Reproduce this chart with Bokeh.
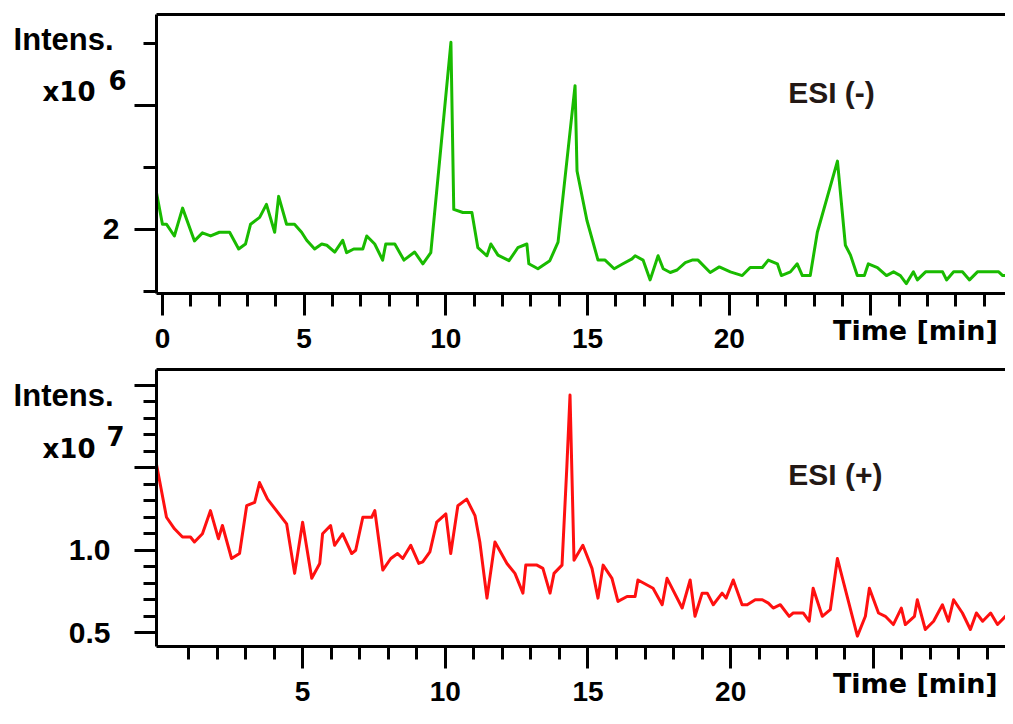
from bokeh.plotting import figure
from bokeh.models import FixedTicker, LinearAxis, Label, Range1d
from bokeh.layouts import column
from bokeh.embed import file_html
from bokeh.resources import INLINE

# ---------------- data (time in min, intensity in x10^n) ----------------
neg_time = [-0.21, 0.0, 0.14, 0.42, 0.71, 1.13, 1.41, 1.70, 2.01, 2.37,
            2.69, 2.93, 3.11, 3.43, 3.67, 3.96, 4.10, 4.38, 4.66, 4.91,
            5.09, 5.37, 5.62, 5.80, 6.08, 6.36, 6.50, 6.75, 7.07, 7.21,
            7.49, 7.77, 7.88, 8.20, 8.52, 8.90, 9.19, 9.47, 10.18, 10.28,
            10.60, 10.92, 11.13, 11.45, 11.59, 11.84, 12.23, 12.54, 12.86, 12.93,
            13.25, 13.67, 13.96, 14.56, 14.59, 14.63, 14.98, 15.37, 15.62, 15.94,
            16.25, 16.57, 16.68, 16.96, 17.21, 17.49, 17.67, 17.92, 18.16, 18.45,
            18.69, 18.90, 19.33, 19.65, 20.04, 20.46, 20.74, 21.17, 21.38, 21.70,
            21.84, 22.16, 22.40, 22.58, 22.86, 23.11, 23.82, 24.10, 24.28, 24.52,
            24.77, 24.91, 25.23, 25.55, 25.80, 26.04, 26.25, 26.50, 26.64, 26.93,
            27.53, 27.67, 27.92, 28.23, 28.48, 28.76, 29.51, 29.65, 30.04]
neg_intensity = [2.59, 2.08, 2.08, 1.89, 2.34, 1.81, 1.94, 1.89, 1.95, 1.95,
                 1.68, 1.76, 2.08, 2.19, 2.40, 1.95, 2.53, 2.08, 2.08, 1.95,
                 1.82, 1.68, 1.76, 1.74, 1.63, 1.82, 1.62, 1.68, 1.68, 1.89,
                 1.76, 1.50, 1.76, 1.76, 1.50, 1.63, 1.44, 1.62, 5.02, 2.32,
                 2.27, 2.27, 1.70, 1.57, 1.76, 1.58, 1.49, 1.70, 1.76, 1.44,
                 1.36, 1.49, 1.79, 4.32, 3.74, 2.94, 2.14, 1.50, 1.50, 1.36,
                 1.44, 1.52, 1.57, 1.50, 1.18, 1.57, 1.36, 1.30, 1.34, 1.46,
                 1.50, 1.50, 1.30, 1.39, 1.31, 1.25, 1.38, 1.38, 1.50, 1.44,
                 1.25, 1.31, 1.44, 1.25, 1.25, 1.95, 3.10, 1.74, 1.58, 1.25,
                 1.25, 1.44, 1.38, 1.25, 1.31, 1.25, 1.12, 1.31, 1.18, 1.31,
                 1.31, 1.18, 1.31, 1.31, 1.18, 1.31, 1.31, 1.25, 1.25]

pos_time = [-0.12, 0.23, 0.51, 0.79, 1.07, 1.21, 1.49, 1.77, 2.05, 2.19,
            2.51, 2.79, 3.04, 3.32, 3.49, 3.77, 4.44, 4.72, 5.00, 5.32,
            5.60, 5.70, 5.98, 6.12, 6.40, 6.72, 6.86, 7.11, 7.42, 7.53,
            7.81, 8.09, 8.33, 8.51, 8.79, 9.07, 9.21, 9.46, 9.70, 10.02,
            10.19, 10.44, 10.75, 11.04, 11.21, 11.46, 11.74, 12.16, 12.44, 12.72,
            12.82, 13.21, 13.42, 13.67, 13.81, 14.09, 14.26, 14.37, 14.51, 14.82,
            15.14, 15.35, 15.53, 15.84, 16.05, 16.37, 16.65, 16.75, 17.28, 17.60,
            17.77, 18.30, 18.58, 18.75, 19.00, 19.18, 19.39, 19.70, 19.84, 20.09,
            20.40, 20.58, 20.86, 21.11, 21.32, 21.49, 21.74, 22.05, 22.19, 22.54,
            22.75, 22.89, 23.21, 23.49, 23.74, 24.44, 24.72, 24.86, 25.18, 25.42,
            25.70, 25.98, 26.12, 26.44, 26.54, 26.82, 27.11, 27.42, 27.63, 27.81,
            28.12, 28.40, 28.61, 28.83, 29.11, 29.35, 29.63, 29.91]
pos_intensity = [1.52, 1.20, 1.13, 1.08, 1.08, 1.05, 1.10, 1.24, 1.07, 1.15,
                 0.95, 0.98, 1.27, 1.29, 1.41, 1.31, 1.16, 0.86, 1.17, 0.83,
                 0.92, 1.10, 1.15, 1.03, 1.10, 0.98, 1.00, 1.20, 1.20, 1.24,
                 0.88, 0.95, 0.98, 0.95, 1.03, 0.92, 0.93, 0.99, 1.17, 1.22,
                 0.98, 1.27, 1.31, 1.21, 1.05, 0.71, 1.05, 0.92, 0.86, 0.74,
                 0.91, 0.91, 0.89, 0.74, 0.86, 0.91, 1.51, 1.94, 0.94, 1.03,
                 0.89, 0.71, 0.91, 0.83, 0.69, 0.72, 0.72, 0.82, 0.77, 0.67,
                 0.83, 0.65, 0.82, 0.60, 0.74, 0.74, 0.67, 0.74, 0.71, 0.82,
                 0.67, 0.67, 0.70, 0.70, 0.68, 0.65, 0.67, 0.60, 0.62, 0.62,
                 0.57, 0.77, 0.60, 0.64, 0.95, 0.48, 0.60, 0.77, 0.62, 0.60,
                 0.55, 0.65, 0.55, 0.60, 0.70, 0.52, 0.57, 0.67, 0.57, 0.70,
                 0.62, 0.52, 0.62, 0.57, 0.62, 0.55, 0.60, 0.60]

# ---------------- ticks and their texts ----------------
neg_x_major = [0, 5, 10, 15, 20, 25, 30]
neg_x_minor = [m for m in range(1, 30) if m % 5]
neg_x_hidden = {25: "", 30: ""}
neg_y_major = [2, 4]
neg_y_minor = [1, 3, 5]
neg_y_numbers = {2: "2"}
neg_exponent = {4.416: "6"}
neg_x10 = {4.21: "x10"}
neg_intens = {5.07: "Intens."}

pos_x_major = [5, 10, 15, 20, 25, 30]
pos_x_minor = [m for m in range(1, 30) if m % 5]
pos_x_hidden = {25: "", 30: ""}
pos_y_major = [0.5, 1.0, 1.5, 2.0]
pos_y_minor = [0.6, 0.7, 0.8, 0.9, 1.1, 1.2, 1.3, 1.4, 1.6, 1.7, 1.8, 1.9]
pos_y_numbers = {0.5: "0.5", 1.0: "1.0"}
pos_exponent = {1.69: "7"}
pos_x10 = {1.613: "x10"}
pos_intens = {1.94: "Intens."}

time_title = "Time [min]"
neg_title_at = 26.57
pos_title_at = 26.47

AX_FONT = "Liberation Sans"
WIDE_FONT = "DejaVu Sans"
TICK_OUT = 22
BOTTOM_BORDER = 70


def bare_axis(texts, font, size, standoff):
    return LinearAxis(ticker=FixedTicker(ticks=list(texts.keys())), major_label_overrides=dict(texts),
                      axis_line_color=None, major_tick_line_color=None,
                      minor_tick_line_color=None, major_tick_out=0, major_tick_in=0,
                      minor_tick_out=0, minor_tick_in=0, major_label_standoff=standoff,
                      major_label_text_font=font, major_label_text_font_style="bold",
                      major_label_text_font_size=size, major_label_text_color="black")


def style_axes(p, xt, xm, xhidden, title_at, yt, ym, left_stack):
    for ax, ticks, minor in ((p.xaxis[0], xt, xm), (p.yaxis[0], yt, ym)):
        ax.ticker = FixedTicker(ticks=ticks, minor_ticks=minor)
        ax.axis_line_width = 3
        ax.axis_line_color = "black"
        ax.major_tick_line_width = 3
        ax.minor_tick_line_width = 3
        ax.major_tick_line_color = "black"
        ax.minor_tick_line_color = "black"
        ax.major_tick_in = 0
        ax.minor_tick_in = 0
        ax.major_tick_out = TICK_OUT
        ax.minor_tick_out = 13
    # x axis: numbers on the tick axis itself
    xa = p.xaxis[0]
    xa.major_label_overrides = dict(xhidden)
    xa.major_label_text_font = AX_FONT
    xa.major_label_text_font_style = "bold"
    xa.major_label_text_font_size = "28px"
    xa.major_label_text_color = "black"
    xa.major_label_standoff = 13
    # y axis: its texts live on bare axes stacked outward
    ya = p.yaxis[0]
    ya.major_label_overrides = {t: "" for t in yt}
    ya.major_label_text_font_size = "1px"
    ya.major_label_standoff = 0
    for texts, font, size, standoff in left_stack:
        p.add_layout(bare_axis(texts, font, size, standoff), "left")
    # "Time [min]" on the same row as the numbers
    p.add_layout(bare_axis({title_at: time_title}, WIDE_FONT, "27px", -36), "below")

    top = LinearAxis(ticker=FixedTicker(ticks=[]), major_tick_out=0, minor_tick_out=0,
                     major_tick_in=0, minor_tick_in=0,
                     major_label_standoff=0, axis_line_width=3, axis_line_color="black")
    p.add_layout(top, "above")


def make_panel(times, vals, color, xr, yr, height, top_border):
    p = figure(width=1005, height=height, x_range=Range1d(*xr), y_range=Range1d(*yr),
               output_backend="svg", toolbar_location=None,
               min_border_left=156, min_border_right=0,
               min_border_top=top_border, min_border_bottom=BOTTOM_BORDER)
    p.line(times, vals, line_color=color, line_width=3, line_join="round")
    p.xgrid.visible = False
    p.ygrid.visible = False
    p.outline_line_color = None
    p.background_fill_color = "white"
    p.border_fill_color = "white"
    return p


def add_text(p, x, y, text):
    p.add_layout(Label(x=x, y=y, text=text, text_font=AX_FONT, text_font_style="bold",
                       text_font_size="30px", text_color="#231815",
                       text_align="left", text_baseline="alphabetic"))


# ---------------- top panel: ESI (-) ----------------
p1 = make_panel(neg_time, neg_intensity, "#19bb00", (-0.21, 29.75), (0.96, 5.47), 363, 14)
style_axes(p1, neg_x_major, neg_x_minor, neg_x_hidden, neg_title_at,
           neg_y_major, neg_y_minor,
           [(neg_exponent, WIDE_FONT, "26px", 8),
            (neg_y_numbers, AX_FONT, "30px", -14),
            (neg_x10, WIDE_FONT, "26px", 4),
            (neg_intens, AX_FONT, "31px", -74)])
add_text(p1, 22.08, 4.21, "ESI (-)")

# ---------------- bottom panel: ESI (+) ----------------
p2 = make_panel(pos_time, pos_intensity, "#ff1010", (-0.12, 29.63), (0.417, 2.095), 353, 6)
style_axes(p2, pos_x_major, pos_x_minor, pos_x_hidden, pos_title_at,
           pos_y_major, pos_y_minor,
           [(pos_exponent, WIDE_FONT, "26px", 10),
            (pos_y_numbers, AX_FONT, "30px", -7),
            (pos_x10, WIDE_FONT, "26px", -30),
            (pos_intens, AX_FONT, "31px", -74)])
add_text(p2, 22.02, 1.458, "ESI (+)")

layout = column(p1, p2, spacing=0)
open("out.html", "w").write(file_html(layout, INLINE))
